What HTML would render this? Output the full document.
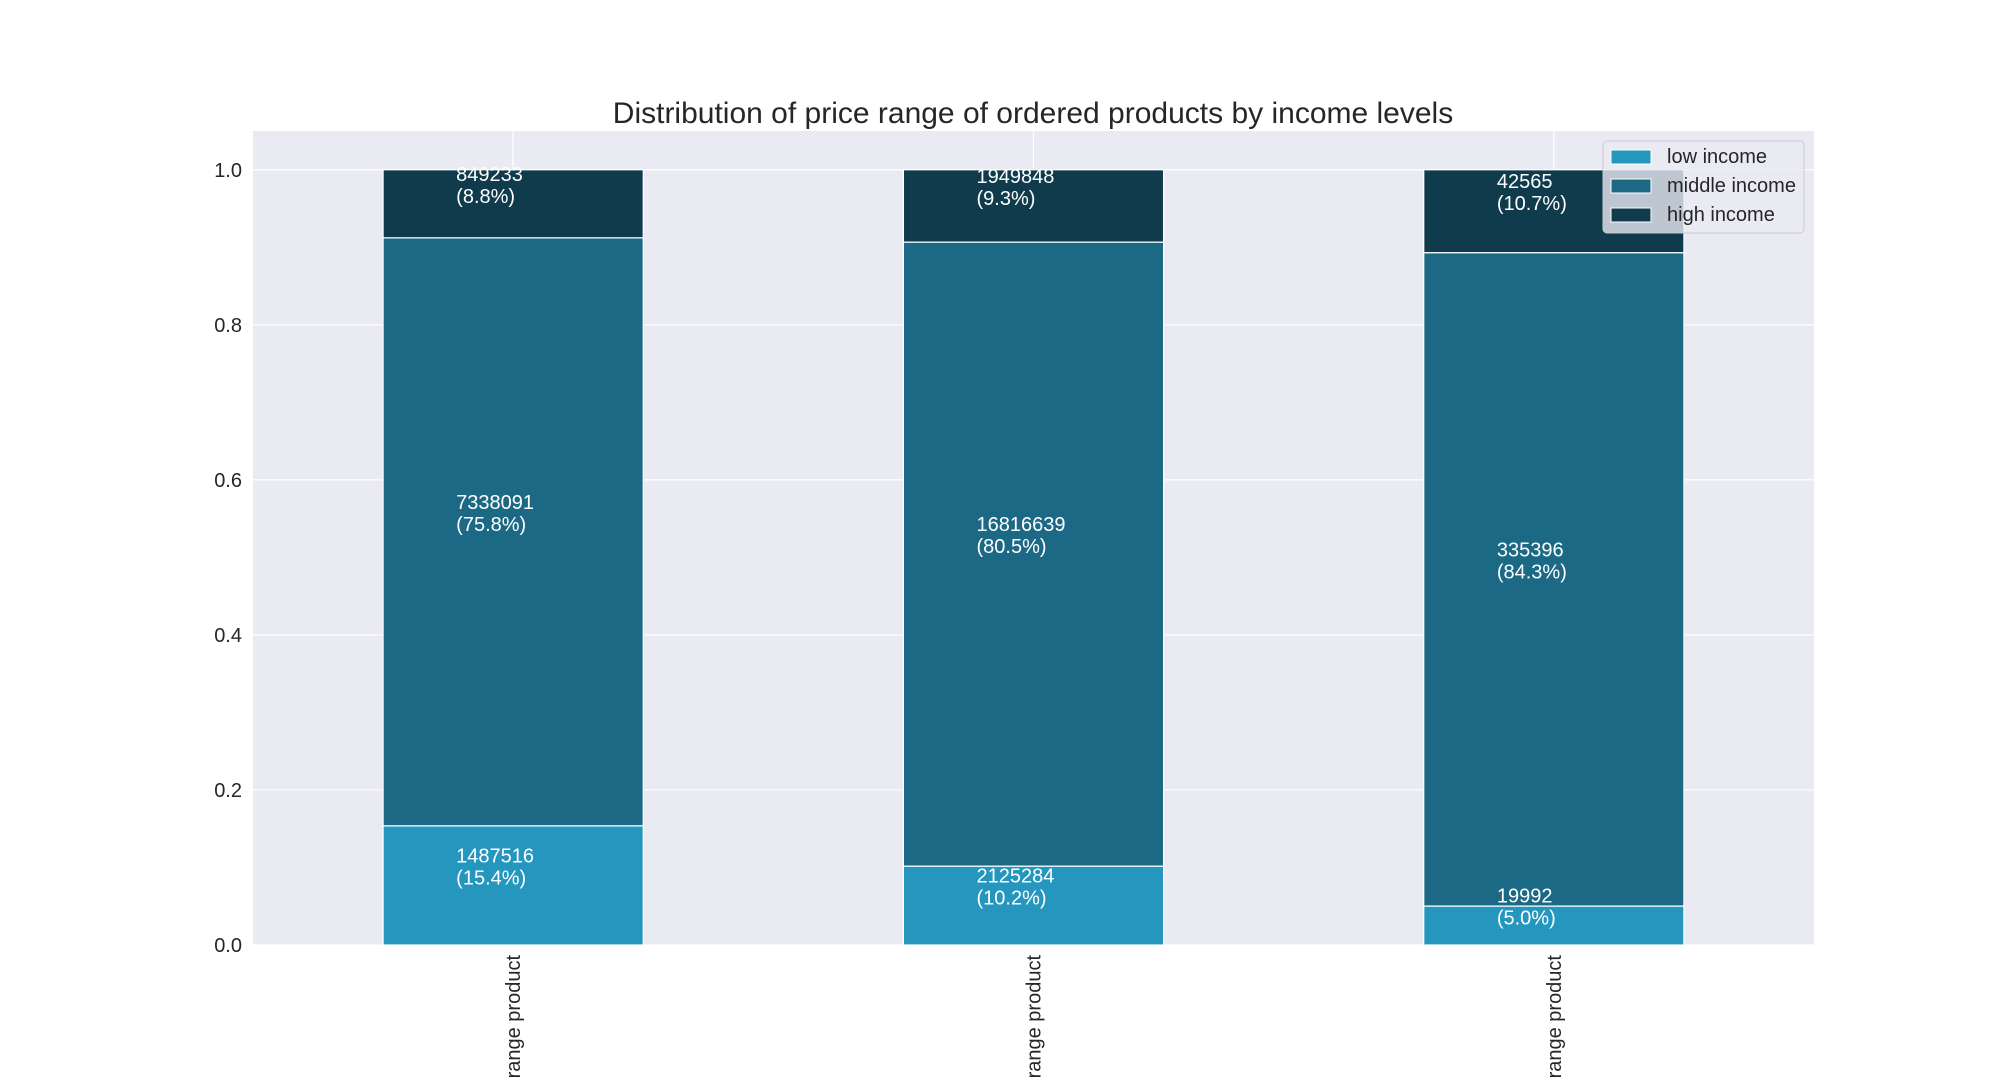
<!DOCTYPE html>
<html><head><meta charset="utf-8"><style>
html,body{margin:0;padding:0;background:#fff;}
svg{display:block;font-family:"Liberation Sans",Arial,sans-serif;}
</style></head><body>
<svg id="chart" width="2016" height="1080">
<rect x="253" y="131" width="1561" height="814" fill="#eaeaf2"/>
<g id="grid"></g><g id="bars"></g><g id="labels"></g><g id="axes"></g>
<text x="1033" y="123" text-anchor="middle" font-size="30" fill="#262626">Distribution of price range of ordered products by income levels</text>
<g>
<rect x="1603" y="141" width="201" height="92" rx="4" fill="#eaeaf2" fill-opacity="0.8" stroke="#cccccc"/>
<rect x="1611" y="150" width="40" height="14" fill="#2596be" stroke="#fff"/>
<text x="1667" y="163" font-size="20" fill="#262626">low income</text>
<rect x="1611" y="179" width="40" height="14" fill="#1b6984" stroke="#fff"/>
<text x="1667" y="192" font-size="20" fill="#262626">middle income</text>
<rect x="1611" y="208" width="40" height="14" fill="#0f3b4c" stroke="#fff"/>
<text x="1667" y="221" font-size="20" fill="#262626">high income</text>
</g>
</svg>
<script>
const categories = ["low range product", "mid range product", "high range product"];
const lowIncome = [1487516, 2125284, 19992];
const middleIncome = [7338091, 16816639, 335396];
const highIncome = [849233, 1949848, 42565];
const yTicks = [0.0, 0.2, 0.4, 0.6, 0.8, 1.0];
const seriesNames = ["low", "middle", "high"];
const colors = ["#2596be", "#1b6984", "#0f3b4c"];

const NS = "http://www.w3.org/2000/svg";
const X0 = 253, X1 = 1814, Y0 = 945, Ytop = 131, YMAX = 1.05;
function xScale(i){ return X0 + (i + 0.5) * (X1 - X0) / categories.length; }
const band = (X1 - X0) / categories.length;
function yScale(v){ return Y0 - v / YMAX * (Y0 - Ytop); }
function mk(tag, attrs, parent){ const e = document.createElementNS(NS, tag); for (const k in attrs) e.setAttribute(k, attrs[k]); parent.appendChild(e); return e; }

const grid = document.getElementById('grid');
const axes = document.getElementById('axes');
yTicks.forEach(t => {
  const y = yScale(t);
  const l = mk('line', {x1: X0, x2: X1, y1: y, y2: y, stroke: '#fff', 'stroke-width': 1.2}, grid);
  
  
  const tx = mk('text', {x: 242, y: y + 7, 'text-anchor': 'end', 'font-size': 20, fill: '#262626'}, axes);
  tx.textContent = t.toFixed(1);
  
  
});
categories.forEach((c, i) => {
  const x = xScale(i);
  const l = mk('line', {x1: x, x2: x, y1: Ytop, y2: Y0, stroke: '#fff', 'stroke-width': 1.2}, grid);
  
  
  const tx = mk('text', {x: 0, y: 0, 'text-anchor': 'end', 'font-size': 20, fill: '#262626', transform: `translate(${x + 7},955) rotate(-90)`}, axes);
  tx.textContent = c;
  
  
});

const bars = document.getElementById('bars');
const labels = document.getElementById('labels');
const series = [lowIncome, middleIncome, highIncome];
categories.forEach((c, i) => {
  const total = lowIncome[i] + middleIncome[i] + highIncome[i];
  let cum = 0;
  series.forEach((s, k) => {
    const f = s[i] / total;
    const yTop = yScale(cum + f), yBot = yScale(cum);
    const r = mk('rect', {x: xScale(i) - band / 4, y: yTop, width: band / 2, height: yBot - yTop, fill: colors[k], stroke: '#fff', 'stroke-width': 1.2}, bars);
    
    
    const cy = (yTop + yBot) / 2 - 22;
    const lx = xScale(i) - 57;
    const t1 = mk('text', {x: lx, y: cy - 1, 'font-size': 20, fill: '#fff'}, labels);
    t1.textContent = String(s[i]);
    
    
    const t2 = mk('text', {x: lx, y: cy + 21, 'font-size': 20, fill: '#fff'}, labels);
    t2.textContent = '(' + (f * 100).toFixed(1) + '%)';
    
    
    cum += f;
  });
});
</script>
</body></html>
